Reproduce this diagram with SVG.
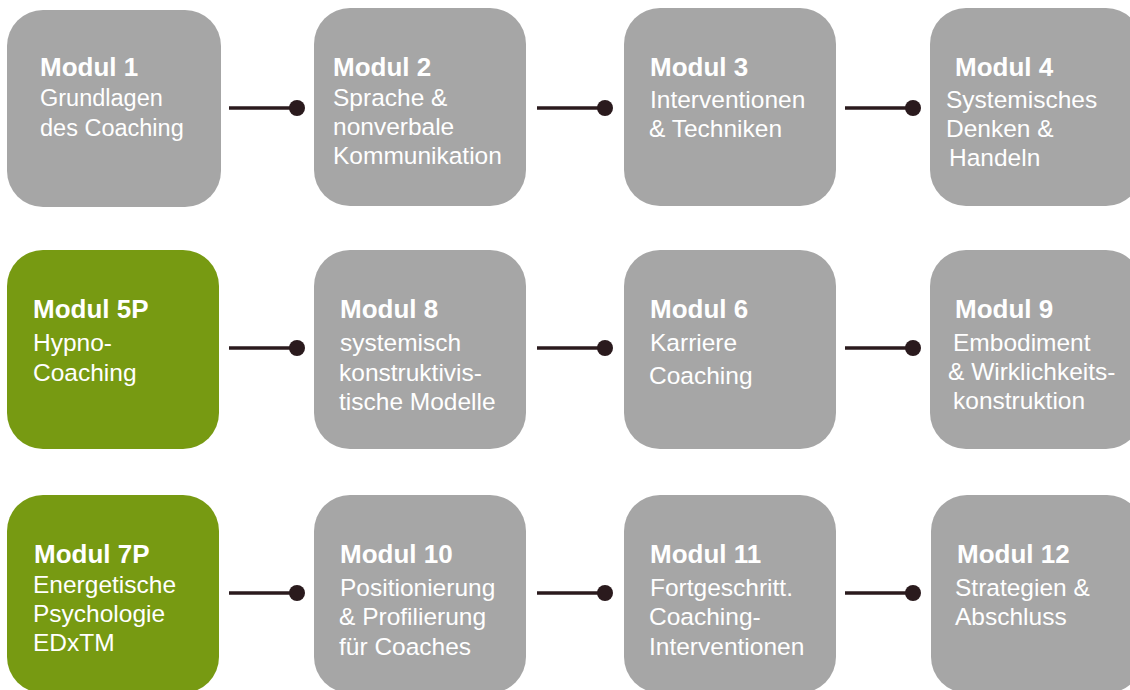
<svg xmlns="http://www.w3.org/2000/svg" width="1130" height="690" viewBox="0 0 1130 690">
<defs>
<style>
.box{fill:#a6a6a6}
.green{fill:#779a12}
.t{font-family:"Liberation Sans",Arial,sans-serif;font-weight:bold;font-size:26px;fill:#ffffff}
.s{font-family:"Liberation Sans",Arial,sans-serif;font-size:24.5px;fill:#ffffff}
.c{stroke:#2a1a1d;stroke-width:3.5;fill:none}
.d{fill:#2a1a1d}
</style>
</defs>
<rect width="1130" height="690" fill="#ffffff"/>
<g id="connectors">
<line class="c" x1="229" y1="108" x2="297" y2="108"/><circle class="d" cx="297" cy="108" r="8"/>
<line class="c" x1="537" y1="108" x2="605" y2="108"/><circle class="d" cx="605" cy="108" r="8"/>
<line class="c" x1="845" y1="108" x2="913" y2="108"/><circle class="d" cx="913" cy="108" r="8"/>
<line class="c" x1="229" y1="348" x2="297" y2="348"/><circle class="d" cx="297" cy="348" r="8"/>
<line class="c" x1="537" y1="348" x2="605" y2="348"/><circle class="d" cx="605" cy="348" r="8"/>
<line class="c" x1="845" y1="348" x2="913" y2="348"/><circle class="d" cx="913" cy="348" r="8"/>
<line class="c" x1="229" y1="593" x2="297" y2="593"/><circle class="d" cx="297" cy="593" r="8"/>
<line class="c" x1="537" y1="593" x2="605" y2="593"/><circle class="d" cx="605" cy="593" r="8"/>
<line class="c" x1="845" y1="593" x2="913" y2="593"/><circle class="d" cx="913" cy="593" r="8"/>
</g>
<g id="m1">
<rect class="box" x="7" y="10" width="214" height="197" rx="36"/>
<text class="t" x="40" y="76">Modul 1</text>
<text class="s" x="40" y="106" style="font-size:23.5px">Grundlagen</text>
<text class="s" x="40" y="136" style="font-size:23.5px">des Coaching</text>
</g>
<g id="m2">
<rect class="box" x="314" y="8" width="212" height="198" rx="36"/>
<text class="t" x="333" y="76">Modul 2</text>
<text class="s" x="333" y="106">Sprache &amp;</text>
<text class="s" x="333" y="135">nonverbale</text>
<text class="s" x="333" y="164">Kommunikation</text>
</g>
<g id="m3">
<rect class="box" x="624" y="8" width="212" height="198" rx="36"/>
<text class="t" x="650" y="76">Modul 3</text>
<text class="s" x="650" y="108">Interventionen</text>
<text class="s" x="649" y="137">&amp; Techniken</text>
</g>
<g id="m4">
<rect class="box" x="930" y="8" width="212" height="198" rx="36"/>
<text class="t" x="955" y="76">Modul 4</text>
<text class="s" x="946" y="108">Systemisches</text>
<text class="s" x="946" y="137">Denken &amp;</text>
<text class="s" x="949" y="166">Handeln</text>
</g>
<g id="m5p">
<rect class="green" x="7" y="250" width="212" height="199" rx="36"/>
<text class="t" x="33" y="318">Modul 5P</text>
<text class="s" x="33" y="351">Hypno-</text>
<text class="s" x="33" y="381">Coaching</text>
</g>
<g id="m8">
<rect class="box" x="314" y="250" width="212" height="199" rx="36"/>
<text class="t" x="340" y="318">Modul 8</text>
<text class="s" x="340" y="351">systemisch</text>
<text class="s" x="339" y="381">konstruktivis-</text>
<text class="s" x="339" y="410">tische Modelle</text>
</g>
<g id="m6">
<rect class="box" x="624" y="250" width="212" height="199" rx="36"/>
<text class="t" x="650" y="318">Modul 6</text>
<text class="s" x="650" y="351">Karriere</text>
<text class="s" x="649" y="384">Coaching</text>
</g>
<g id="m9">
<rect class="box" x="930" y="250" width="212" height="199" rx="36"/>
<text class="t" x="955" y="318">Modul 9</text>
<text class="s" x="953" y="351">Embodiment</text>
<text class="s" x="948" y="380">&amp; Wirklichkeits-</text>
<text class="s" x="953" y="409">konstruktion</text>
</g>
<g id="m7p">
<rect class="green" x="7" y="495" width="212" height="198" rx="36"/>
<text class="t" x="34" y="563">Modul 7P</text>
<text class="s" x="33" y="593">Energetische</text>
<text class="s" x="33" y="622">Psychologie</text>
<text class="s" x="33" y="651">EDxTM</text>
</g>
<g id="m10">
<rect class="box" x="314" y="495" width="212" height="198" rx="36"/>
<text class="t" x="340" y="563">Modul 10</text>
<text class="s" x="340" y="596">Positionierung</text>
<text class="s" x="339" y="625">&amp; Profilierung</text>
<text class="s" x="339" y="655">für Coaches</text>
</g>
<g id="m11">
<rect class="box" x="624" y="495" width="212" height="198" rx="36"/>
<text class="t" x="650" y="563">Modul 11</text>
<text class="s" x="650" y="596">Fortgeschritt.</text>
<text class="s" x="649" y="625">Coaching-</text>
<text class="s" x="649" y="655">Interventionen</text>
</g>
<g id="m12">
<rect class="box" x="931" y="495" width="212" height="198" rx="36"/>
<text class="t" x="957" y="563">Modul 12</text>
<text class="s" x="955" y="596">Strategien &amp;</text>
<text class="s" x="955" y="625">Abschluss</text>
</g>
</svg>
